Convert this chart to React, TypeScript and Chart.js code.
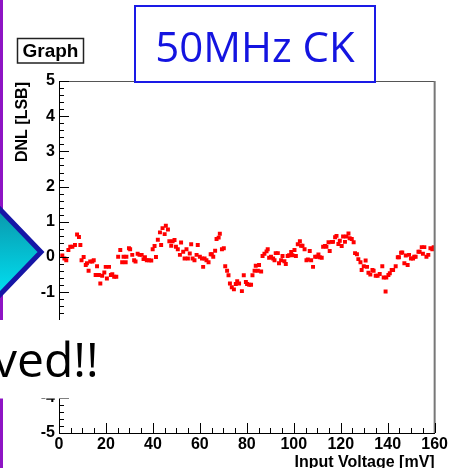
import React, { useEffect, useRef } from "react";
import { Chart, registerables } from "chart.js";

Chart.register(...registerables);

// Input voltage [mV]
const inputVoltage = [
  1.4, 2.3, 3.1, 4.0, 4.8, 5.7, 6.8, 7.7, 8.5, 9.1, 9.6, 10.5, 11.4, 11.9, 12.6, 13.3, 14.2, 14.8,
  15.6, 16.2, 17.0, 17.6, 18.4, 19.3, 19.9, 20.4, 21.3, 22.1, 22.7, 23.5, 24.4, 25.2, 26.1, 26.9,
  27.5, 28.4, 28.7, 29.8, 30.3, 31.2, 32.0, 32.6, 33.5, 34.3, 35.2, 36.0, 36.6, 37.4, 38.3, 39.3,
  39.9, 40.7, 41.3, 42.1, 43.0, 43.5, 44.1, 45.0, 45.5, 46.4, 47.0, 47.8, 48.4, 49.2, 49.8, 50.6,
  51.5, 52.0, 52.9, 53.5, 54.3, 54.9, 55.7, 56.3, 56.9, 57.7, 58.6, 59.1, 60.0, 60.9, 61.4, 62.0,
  62.8, 63.7, 64.6, 65.1, 65.7, 66.5, 67.1, 68.0, 68.5, 69.4, 70.2, 70.8, 71.6, 72.2, 72.8, 73.6,
  74.5, 75.3, 75.9, 76.7, 77.9, 78.7, 79.6, 80.1, 81.0, 81.8, 82.4, 83.3, 83.8, 84.7, 85.2, 86.1,
  86.7, 87.5, 88.4, 88.9, 89.5, 90.3, 91.2, 91.8, 92.3, 93.2, 93.7, 94.6, 95.2, 96.0, 96.6, 97.4,
  98.0, 98.9, 99.4, 100.3, 100.9, 101.7, 102.6, 103.1, 103.7, 104.6, 105.4, 106.0, 106.8, 107.4,
  108.2, 109.1, 109.9, 110.5, 111.1, 111.9, 112.5, 113.3, 113.9, 114.8, 115.3, 116.2, 116.7, 117.6,
  118.2, 119.0, 119.6, 120.4, 121.0, 121.8, 122.4, 123.3, 123.8, 124.7, 125.5, 126.1, 126.9, 127.5,
  128.4, 128.9, 129.8, 130.6, 131.2, 131.8, 132.6, 133.5, 134.0, 134.9, 135.7, 136.6, 137.7, 138.3,
  139.1, 139.4, 140.3, 140.9, 141.7, 142.3, 143.4, 144.3, 144.8, 145.7, 146.2, 147.1, 147.7, 148.5,
  149.1, 149.9, 150.8, 151.3, 151.9, 153.1, 153.6, 154.5, 155.0, 155.6, 156.5, 157.3, 158.2, 159.0,
  159.6,
];

// DNL [LSB]
const dnl = [
  0.04, -0.04, -0.09, 0.2, 0.29, 0.29, 0.34, 0.64, 0.57, 0.34, -0.09, 0.0, -0.23, -0.18, -0.39, -0.13, -0.13, -0.09,
  -0.51, -0.26, -0.51, -0.75, -0.53, -0.44, -0.28, -0.61, -0.28, -0.51, -0.49, -0.56, -0.56, 0.01, 0.2, -0.15,
  0.01, -0.15, 0.01, 0.25, 0.22, 0.06, -0.09, -0.13, 0.09, 0.06, 0.06, -0.06, -0.01, -0.09, -0.09, -0.1,
  0.22, 0.31, 0.0, 0.49, 0.7, 0.34, 0.82, 0.65, 0.89, 0.78, 0.45, 0.32, 0.45, 0.48, 0.29, 0.22,
  0.06, 0.41, 0.15, -0.04, 0.22, -0.04, 0.1, 0.36, -0.04, -0.09, 0.06, 0.34, 0.01, -0.04, -0.28, -0.04,
  -0.09, -0.15, 0.08, 0.08, 0.01, 0.18, 0.51, 0.55, 0.66, 0.22, 0.25, -0.26, -0.39, -0.52, -0.75, -0.86,
  -0.92, -0.77, -0.69, -0.75, -0.97, -0.52, -0.71, -0.77, -0.79, -0.79, -0.52, -0.39, -0.25, -0.39, -0.23, -0.41,
  0.03, 0.09, 0.16, 0.22, -0.02, 0.01, -0.04, -0.09, 0.11, 0.11, -0.18, -0.09, 0.03, -0.12, -0.2, 0.03,
  0.05, 0.14, 0.05, 0.2, 0.03, 0.36, 0.45, 0.32, 0.32, 0.22, -0.09, -0.07, 0.17, -0.09,
  -0.28, 0.01, 0.01, 0.07, -0.01, -0.02, 0.29, 0.31, 0.29, 0.42, 0.17, 0.43, 0.43, 0.56,
  0.6, 0.37, 0.46, 0.31, 0.58, 0.43, 0.58, 0.67, 0.53, 0.51, 0.42, 0.11, 0.08, -0.06,
  -0.15, -0.37, -0.26, -0.1, -0.28, -0.45, -0.5, -0.37, -0.39, -0.53, -0.53, -0.48, -0.26, -0.58,
  -0.98, -0.58, -0.51, -0.46, -0.37, -0.37, -0.26, -0.01, -0.01, 0.12, 0.13, -0.18, 0.04, -0.23,
  0.06, -0.04, -0.04, 0.01, 0.01, 0.15, 0.15, 0.28, 0.09, 0.28, 0.01, 0.06, 0.25, 0.22,
  0.28,
];

const xTickLabels = [0, 20, 40, 60, 80, 100, 120, 140, 160];
const yTickLabels = [-5, -4, -3, -2, -1, 0, 1, 2, 3, 4, 5];

const graphTitle = "Graph";
const clockLabel = "50MHz CK";
const slideText = "ved!!";
const xTitle = "Input Voltage [mV]";
const yTitle = "DNL [LSB]";

const W = 450;
const H = 468;
const ROOT_FONT = '"Liberation Sans", Arial, sans-serif';

const overlayPlugin = {
  id: "overlay",
  afterDraw(chart: any) {
    const { ctx, chartArea: ca, scales } = chart;
    const xs = scales.x;
    const ys = scales.y;
    ctx.save();

    const line = (x1: number, y1: number, x2: number, y2: number) => {
      ctx.beginPath();
      ctx.moveTo(x1, y1);
      ctx.lineTo(x2, y2);
      ctx.stroke();
    };

    // frame top & right
    ctx.strokeStyle = "#555";
    ctx.lineWidth = 1;
    line(ca.left, ca.top + 0.5, ca.right, ca.top + 0.5);
    ctx.strokeStyle = "#777";
    ctx.lineWidth = 2;
    line(ca.right, ca.top, ca.right, ca.bottom);

    // inside ticks (ROOT style)
    ctx.strokeStyle = "#000";
    ctx.lineWidth = 1;
    for (let i = 0; i <= 50; i++) {
      const v = -5 + i * 0.2;
      const py = Math.round(ys.getPixelForValue(v)) + 0.5;
      const len = i % 5 === 0 ? 10 : 5;
      line(ca.left, py, ca.left + len, py);
    }
    for (let v = 0; v <= 160; v += 5) {
      const px = Math.round(xs.getPixelForValue(v)) + 0.5;
      const len = v % 20 === 0 ? 10 : 5;
      line(px, ca.bottom, px, ca.bottom - len);
    }

    // axis titles
    ctx.fillStyle = "#000";
    ctx.font = `bold 16px ${ROOT_FONT}`;
    ctx.textAlign = "right";
    ctx.textBaseline = "top";
    ctx.fillText(xTitle, ca.right, 455);
    ctx.save();
    ctx.translate(23, ca.top + 1);
    ctx.rotate(-Math.PI / 2);
    ctx.textAlign = "right";
    ctx.textBaseline = "middle";
    ctx.fillText(yTitle, 0, 0);
    ctx.restore();

    // purple slide bar
    ctx.fillStyle = "#8e14c4";
    ctx.fillRect(0, 0, 3, H);

    // cyan arrow
    ctx.beginPath();
    ctx.moveTo(-30, 178);
    ctx.lineTo(41, 252);
    ctx.lineTo(-30, 326);
    ctx.closePath();
    const grad = ctx.createLinearGradient(0, 205, 0, 300);
    grad.addColorStop(0, "#0a94a8");
    grad.addColorStop(1, "#00e4f6");
    ctx.fillStyle = grad;
    ctx.fill();
    ctx.strokeStyle = "#1616a6";
    ctx.lineWidth = 5;
    ctx.lineJoin = "miter";
    ctx.stroke();

    // white slide text box
    ctx.fillStyle = "#fff";
    ctx.fillRect(0, 320, 200, 78.5);
    ctx.fillStyle = "#000";
    ctx.font = '48px "Open Sans", sans-serif';
    ctx.textAlign = "left";
    ctx.textBaseline = "alphabetic";
    ctx.fillText(slideText, -7, 377);

    // Graph title box
    ctx.fillStyle = "#fff";
    ctx.fillRect(17, 38, 67, 25);
    ctx.strokeStyle = "#222";
    ctx.lineWidth = 1.5;
    ctx.strokeRect(17.5, 38.5, 66, 24.5);
    ctx.fillStyle = "#000";
    ctx.font = `bold 19px ${ROOT_FONT}`;
    ctx.textAlign = "center";
    ctx.textBaseline = "middle";
    ctx.fillText(graphTitle, 50.5, 51.5);

    // 50MHz CK box
    ctx.fillStyle = "#fff";
    ctx.fillRect(134, 5, 242, 78);
    ctx.strokeStyle = "#1a1ae6";
    ctx.lineWidth = 2;
    ctx.strokeRect(135, 6, 240, 76);
    ctx.fillStyle = "#1414e0";
    ctx.font = '42px "Open Sans", sans-serif';
    ctx.textAlign = "center";
    ctx.textBaseline = "alphabetic";
    ctx.fillText(clockLabel, 255, 62);

    ctx.restore();
  },
};

export default function App() {
  const canvasRef = useRef<HTMLCanvasElement | null>(null);

  useEffect(() => {
    const canvas = canvasRef.current;
    if (!canvas) return;
    const points = inputVoltage.map((x, i) => ({ x, y: dnl[i] }));
    const chart = new Chart(canvas, {
      type: "scatter",
      data: {
        datasets: [
          {
            data: points,
            pointStyle: "rect",
            pointRadius: 2.8,
            pointHoverRadius: 2.8,
            pointBackgroundColor: "#ff0000",
            pointBorderWidth: 0,
            showLine: false,
          },
        ],
      },
      options: {
        responsive: false,
        animation: false,
        devicePixelRatio: 1,
        events: [],
        layout: { padding: { top: 81, right: 15, bottom: 0, left: 0 } },
        plugins: { legend: { display: false }, tooltip: { enabled: false } },
        scales: {
          x: {
            type: "linear",
            min: 0,
            max: 160,
            afterFit: (s: any) => {
              s.height = 35;
            },
            afterBuildTicks: (s: any) => {
              s.ticks = xTickLabels.map((v) => ({ value: v }));
            },
            grid: { display: false, drawTicks: false },
            border: { display: true, color: "#000", width: 1 },
            ticks: {
              autoSkip: false,
              maxRotation: 0,
              padding: 2,
              color: "#000",
              font: { family: ROOT_FONT, size: 16, weight: "bold" },
            },
          },
          y: {
            type: "linear",
            min: -5,
            max: 5,
            afterFit: (s: any) => {
              s.width = 59;
            },
            afterBuildTicks: (s: any) => {
              s.ticks = yTickLabels.map((v) => ({ value: v }));
            },
            grid: { display: false, drawTicks: false },
            border: { display: true, color: "#000", width: 1 },
            ticks: {
              padding: 4,
              color: "#000",
              font: { family: ROOT_FONT, size: 16, weight: "bold" },
            },
          },
        },
      },
      plugins: [overlayPlugin],
    } as any);
    return () => chart.destroy();
  }, []);

  return (
    <div style={{ position: "fixed", left: 0, top: 0, width: W, height: H, background: "#fff" }}>
      <canvas ref={canvasRef} width={W} height={H} style={{ display: "block", width: W, height: H }} />
    </div>
  );
}
